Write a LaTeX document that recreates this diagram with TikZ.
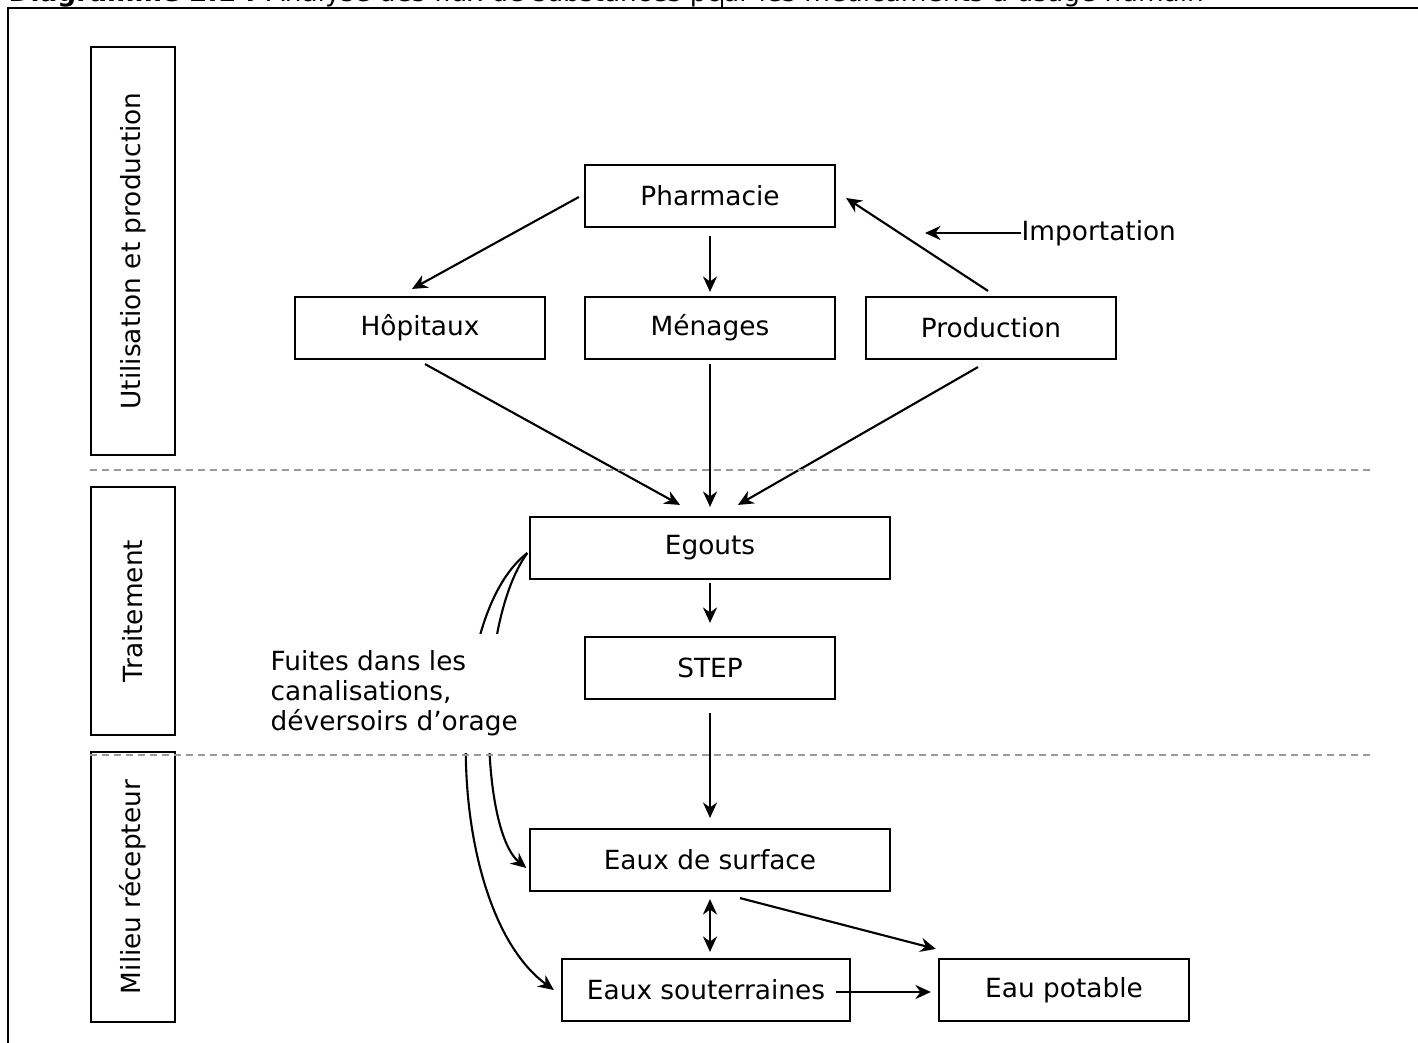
\documentclass[tikz,border=0pt]{standalone}
\usepackage{fontspec}
\setmainfont{DejaVu Sans}
\usetikzlibrary{arrows.meta,calc}

\begin{document}
\begin{tikzpicture}[
  x=0.01cm, y=-0.01cm,
  every node/.style={font=\fontsize{7.5}{8.5}\selectfont},
  >={Stealth[length=4.4pt,width=4pt]},
  box/.style={draw, line width=0.6pt, minimum height=0.62cm, inner sep=0pt},
  sidebox/.style={draw, line width=0.6pt, rotate=90, minimum height=0.84cm, inner sep=0pt},
  flow/.style={->, line width=0.6pt},
  zone/.style={gray!80, line width=0.6pt, dash pattern=on 0.07cm off 0.05cm}
]
\useasboundingbox (0,0) rectangle (1418,1043);

% ---------- Title (cut by the page edge) ----------
\begin{scope}
  \clip (0,0) rectangle (1418,8);
  \node[anchor=base west, inner sep=0pt] (title) at (8,2) {\textbf{Diagramme 2.1 :} Analyse des flux de substances pour les médicaments à usage humain};
\end{scope}
\draw[line width=0.6pt] (722,0) -- (722,8);

% ---------- Frame ----------
\draw[line width=0.7pt] (1418,8) -- (8,8) -- (8,1043);

% ---------- Zone labels ----------
\node[sidebox, minimum width=4.07cm] (zuse) at (133,251) {Utilisation et production};
\node[sidebox, minimum width=2.48cm] (ztreat) at (133,611) {Traitement};
\node[sidebox, minimum width=2.70cm] (zenv) at (133,887) {Milieu récepteur};

% ---------- Use and production ----------
\node[box, minimum width=2.5cm] (pharma) at (710,196) {Pharmacie};
\node[box, minimum width=2.5cm] (hopit) at (420,328) {Hôpitaux};
\node[box, minimum width=2.5cm] (menages) at (710,328) {Ménages};
\node[box, minimum width=2.5cm] (prod) at (991,328) {Production};
\node[anchor=west, inner sep=0pt] (import) at (1021,233) {Importation};
\coordinate (importend) at (925,233);

% ---------- Treatment ----------
\node[box, minimum width=3.59cm] (egouts) at (710,548) {Egouts};
\node[box, minimum width=2.5cm] (stp) at (710,668) {STEP};

% ---------- Receiving waters ----------
\node[box, minimum width=3.59cm] (surf) at (710,860) {Eaux de surface};
\node[box, minimum width=2.88cm] (sout) at (706,990) {Eaux souterraines};
\node[box, minimum width=2.5cm] (potable) at (1064,990) {Eau potable};

% ---------- Flows ----------
\draw[flow] ($(pharma.west)+(-5,1)$) -- ($(hopit.north)+(-8,-7)$);
\draw[flow] ($(pharma.south)+(0,8)$) -- ($(menages.north)+(0,-4)$);
\draw[flow] ($(prod.north)+(-3,-5)$) -- ($(pharma.east)+(10,2)$);
\draw[flow] (import.west) -- (importend);

\draw[flow] ($(hopit.south)+(5,4)$) -- ($(egouts.north)+(-30,-11)$);
\draw[flow] ($(menages.south)+(0,4)$) -- ($(egouts.north)+(0,-9)$);
\draw[flow] ($(prod.south)+(-13,7)$) -- ($(egouts.north)+(28,-11)$);

\draw[flow] ($(egouts.south)+(0,3)$) -- ($(stp.north)+(0,-13)$);
\draw[flow] ($(stp.south)+(0,13)$) -- ($(surf.north)+(0,-10)$);

\draw[flow, <->] ($(surf.south)+(0,7)$) -- ($(surf.south |- sout.north)+(0,-6)$);
\draw[flow] ($(surf.south)+(30,6)$) -- ($(potable.north west)+(-2,-9)$);
\draw[flow] ($(sout.east)+(-15,2)$) -- ($(potable.west)+(-7,2)$);

% leaks and overflows
\draw[flow] ($(egouts.west)+(-2,5)$) .. controls (475,625) and (480,830) .. ($(surf.west)+(-3,8)$);
\draw[flow] ($(egouts.west)+(-2,5)$) .. controls (440,620) and (445,910) .. ($(sout.west)+(-7,0)$);
\node[fill=white, align=left, anchor=north west, inner xsep=0.02cm, inner ysep=0.17cm] (fuites) at (268,633) {Fuites dans les\\canalisations,\\déversoirs d’orage};

% ---------- Zone borders ----------
\draw[zone] (90,470) -- (1373,470);
\draw[zone] (90,755) -- (1373,755);

\end{tikzpicture}
\end{document}
